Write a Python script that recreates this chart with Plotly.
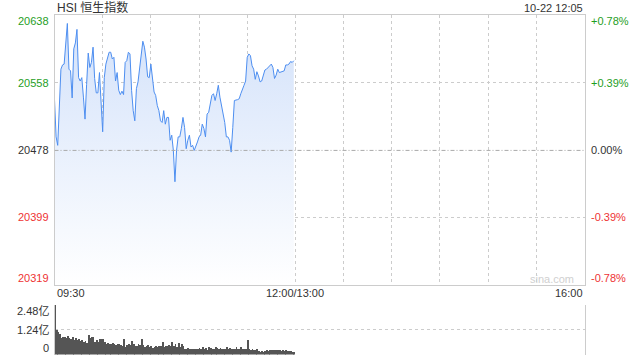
import plotly.graph_objects as go

# ---------------- data ----------------
price_minutes = [0, 1, 2, 4, 5, 6, 8, 9, 10, 11, 12, 13, 14, 15, 16, 17, 18, 19, 20, 21,
                 22, 23, 24, 25, 26, 27, 28, 29, 30, 31, 32, 34, 35, 36, 37, 38, 39, 40, 41, 42,
                 43, 44, 45, 46, 47, 48, 49, 50, 51, 52, 53, 54, 55, 56, 57, 58, 59, 60, 61, 62,
                 63, 64, 65, 66, 67, 68, 69, 70, 71, 72, 73, 74, 75, 76, 77, 78, 79, 80, 81, 82,
                 83, 84, 85, 86, 87, 88, 89, 90, 91, 92, 93, 94, 95, 96, 98, 99, 100, 101, 102, 103,
                 104, 105, 106, 107, 108, 109, 110, 111, 112, 114, 115, 116, 117, 118, 119, 120, 121, 122, 123, 124,
                 125, 126, 127, 128, 129, 130, 131, 132, 133, 135, 136, 137, 138, 139, 140, 141, 142, 143, 144, 145,
                 146, 147, 148, 149]
price_values = [20538, 20494, 20484, 20574, 20579, 20580, 20628, 20574, 20572, 20540,
                20598, 20605, 20621, 20564, 20560, 20564, 20541, 20515, 20556, 20593,
                20576, 20582, 20600, 20563, 20546, 20546, 20570, 20529, 20500, 20564,
                20580, 20594, 20594, 20586, 20588, 20560, 20570, 20549, 20544, 20548,
                20544, 20582, 20584, 20594, 20592, 20549, 20525, 20513, 20551, 20559,
                20576, 20596, 20607, 20600, 20586, 20565, 20564, 20580, 20566, 20547,
                20543, 20531, 20525, 20513, 20511, 20525, 20509, 20517, 20517, 20490,
                20496, 20478, 20441, 20478, 20494, 20494, 20504, 20517, 20505, 20480,
                20490, 20496, 20482, 20484, 20478, 20482, 20488, 20494, 20496, 20509,
                20504, 20494, 20521, 20523, 20543, 20545, 20537, 20545, 20555, 20541,
                20531, 20517, 20511, 20494, 20494, 20490, 20476, 20505, 20537, 20538,
                20539, 20545, 20551, 20555, 20560, 20588, 20592, 20590, 20578, 20574,
                20562, 20571, 20566, 20559, 20560, 20568, 20573, 20574, 20576, 20580,
                20576, 20563, 20567, 20574, 20570, 20571, 20571, 20572, 20579, 20579,
                20580, 20583, 20582, 20584]

volume_yi = [2.48,
             1.24, 1.15, 1.03, 0.81, 0.86, 0.90, 0.81, 0.93, 0.84, 0.76,
             0.86, 0.72, 0.81, 0.72, 0.77, 0.67, 0.72, 0.64, 0.69, 0.58,
             0.98, 0.81, 0.90, 0.86, 0.64, 0.72, 0.64, 0.76, 0.76, 0.76, 0.62,
             0.55, 0.58, 0.52, 0.55, 0.58, 0.52, 0.46, 0.52, 0.55, 0.46,
             0.41, 0.76, 0.38, 0.46, 0.55, 0.46, 0.67, 0.55, 0.43, 0.41,
             0.52, 0.46, 0.76, 0.46, 0.38, 0.41, 0.46, 0.38, 0.41, 0.34, 0.40,
             0.41, 0.38, 0.41, 0.43, 0.64, 0.38, 0.41, 0.41, 0.46, 0.41,
             0.64, 0.41, 0.55, 0.38, 0.58, 0.38, 0.52, 0.41, 0.29, 0.29, 0.31,
             0.26, 0.29, 0.26, 0.29, 0.26, 0.29, 0.33, 0.29, 0.38, 0.29,
             0.33, 0.24, 0.38, 0.33, 0.29, 0.26, 0.38, 0.33, 0.29, 0.33, 0.30,
             0.29, 0.26, 0.38, 0.26, 0.33, 0.29, 0.29, 0.26, 0.38, 0.29,
             0.26, 0.38, 0.29, 0.26, 0.29, 0.72, 0.29, 0.24, 0.29, 0.21, 0.22,
             0.26, 0.17, 0.15, 0.17, 0.15, 0.17, 0.21, 0.17, 0.24, 0.24,
             0.21, 0.24, 0.21, 0.24, 0.21, 0.17, 0.21, 0.17, 0.21, 0.17,
             0.17, 0.17, 0.15, 0.15]
volume_minutes = list(range(len(volume_yi)))

prev_close = 20478
price_ticks = [20638, 20558, 20478, 20399, 20319]
price_tick_text = ["20638", "20558", "20478", "20399", "20319"]
pct_tick_text = ["+0.78%", "+0.39%", "0.00%", "-0.39%", "-0.78%"]
vol_ticks = [2.48, 1.24, 0]
vol_tick_text = ["2.48亿", "1.24亿", "0"]
time_labels = ["09:30", "12:00/13:00", "16:00"]
time_label_minutes = [0, 150, 330]
title_text = "HSI 恒生指数"
stamp_text = "10-22 12:05"

# ---------------- styling ----------------
FONT = "Liberation Sans, Arial, Noto Sans CJK SC, sans-serif"
GREEN = "#1f9e1f"
RED = "#ee3333"
DARK = "#333333"
GRID = "#cccccc"
LINE = "#4d8ef0"
X0, X1 = 54.5 / 640, 584.5 / 640

fig = go.Figure()

fig.add_trace(go.Scatter(
    x=price_minutes, y=price_values, mode="lines",
    line=dict(color=LINE, width=1),
    fill="tozeroy",
    fillgradient=dict(type="vertical",
                      colorscale=[[0, "rgba(255,255,255,1)"], [1, "rgba(210,225,250,1)"]],
                      start=price_ticks[-1], stop=price_ticks[0]),
    xaxis="x", yaxis="y", hoverinfo="skip", showlegend=False,
))

fig.add_trace(go.Bar(
    x=volume_minutes, y=volume_yi, width=0.5,
    marker=dict(color="#555555", line=dict(width=0)),
    xaxis="x2", yaxis="y2", hoverinfo="skip", showlegend=False,
))

fig.update_layout(
    width=640, height=360,
    margin=dict(l=0, r=0, t=0, b=0),
    paper_bgcolor="white", plot_bgcolor="rgba(0,0,0,0)",
    font=dict(family=FONT, size=11, color=DARK),
    bargap=0,
    xaxis=dict(domain=[X0, X1], range=[0, 330], showticklabels=False,
               tickvals=list(range(30, 330, 30)), showgrid=True, gridcolor=GRID, griddash="dot",
               gridwidth=1, zeroline=False, showline=True, linecolor=GRID, linewidth=1, mirror=True,
               ticks=""),
    yaxis=dict(domain=[1 - 285 / 360, 1 - 15 / 360], range=[price_ticks[-1], price_ticks[0]],
               showticklabels=False, tickvals=[price_ticks[1], price_ticks[3]],
               showgrid=True, gridcolor=GRID, griddash="dot", gridwidth=1, zeroline=False,
               showline=True, linecolor=GRID, linewidth=1, mirror=True, ticks=""),
    xaxis2=dict(domain=[X0, X1], range=[0, 330], anchor="y2", showticklabels=False,
                showgrid=False, zeroline=False, showline=False, ticks=""),
    yaxis2=dict(domain=[1 - 354.5 / 360, 1 - 305 / 360], range=[0, vol_ticks[0]], anchor="x2",
                showticklabels=False, tickvals=vol_ticks, showgrid=True, gridcolor=GRID,
                griddash="dot", gridwidth=1, zeroline=False, showline=True, linecolor=GRID,
                linewidth=1, mirror=True, ticks=""),
)

# previous close dash-dot line
fig.add_shape(type="line", xref="x", yref="y", x0=0, x1=330, y0=prev_close, y1=prev_close,
              line=dict(color="#aaaaaa", width=1, dash="4px,2px,1px,2px"), layer="above")

price_colors = [GREEN, GREEN, DARK, RED, RED]
shifts = [-6, 0, 0, 0, 7]
for v, t, p, c, s in zip(price_ticks, price_tick_text, pct_tick_text, price_colors, shifts):
    fig.add_annotation(x=51 / 640, xref="paper", y=v, yref="y", text=t, showarrow=False,
                       xanchor="right", yanchor="middle", yshift=s,
                       font=dict(family=FONT, size=11, color=c))
    fig.add_annotation(x=589 / 640, xref="paper", y=v, yref="y", text=p, showarrow=False,
                       xanchor="left", yanchor="middle", yshift=s,
                       font=dict(family=FONT, size=11, color=c))

vshifts = [-6, 0, 7]
for v, t, s in zip(vol_ticks, vol_tick_text, vshifts):
    fig.add_annotation(x=51 / 640, xref="paper", y=v, yref="y2", text=t, showarrow=False,
                       xanchor="right", yanchor="middle", yshift=s,
                       font=dict(family=FONT, size=11, color=DARK))

anchors = ["left", "center", "right"]
for m, t, a in zip(time_label_minutes, time_labels, anchors):
    fig.add_annotation(x=m, xref="x", y=1 - 293 / 360, yref="paper", text=t, showarrow=False,
                       xanchor=a, yanchor="middle", font=dict(family=FONT, size=11, color=DARK))

fig.add_annotation(x=X0, xref="paper", y=1 - 7.5 / 360, yref="paper", text=title_text,
                   showarrow=False, xanchor="left", yanchor="middle",
                   font=dict(family=FONT, size=12, color=DARK))
fig.add_annotation(x=X1, xref="paper", y=1 - 8 / 360, yref="paper", text=stamp_text,
                   showarrow=False, xanchor="right", yanchor="middle",
                   font=dict(family=FONT, size=11, color=DARK))
fig.add_annotation(x=552 / 640, xref="paper", y=1 - 279 / 360, yref="paper", text="sina.com",
                   showarrow=False, xanchor="center", yanchor="middle",
                   font=dict(family=FONT, size=11, color="#d0d0d0"))

fig.write_html("out.html")
